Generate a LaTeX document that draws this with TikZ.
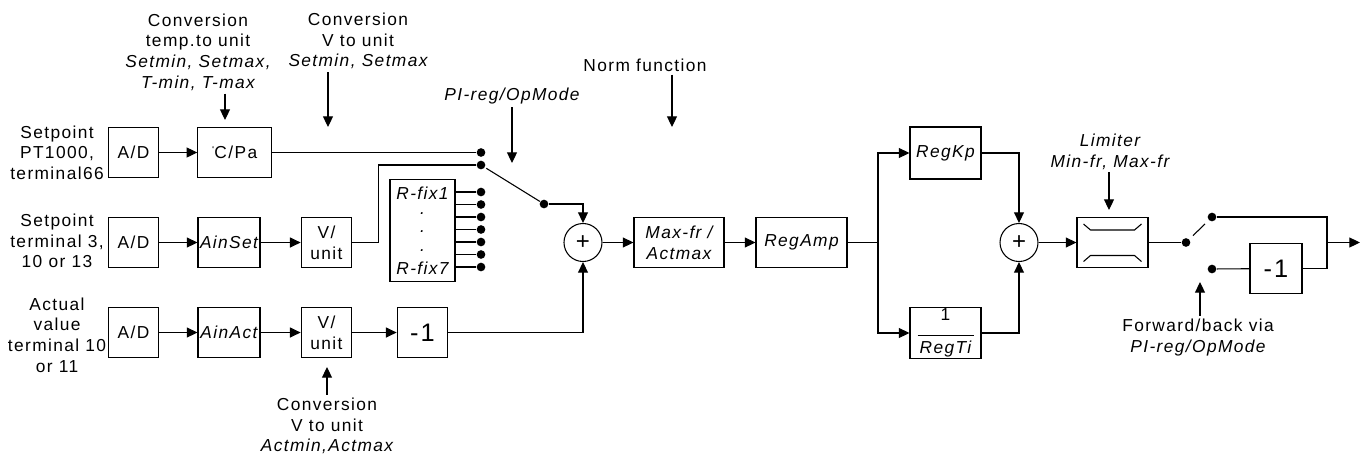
\documentclass[tikz,border=0pt]{standalone}
\usepackage{fontspec}
\setmainfont{Liberation Sans}[LetterSpace=8]
\usetikzlibrary{arrows.meta, calc}

\begin{document}
\begin{tikzpicture}[
    x=0.75pt, y=-0.75pt,
    line width=0.8pt,
    font=\fontsize{13}{15.5}\selectfont,
    box/.style={rectangle, draw, minimum width=38pt, minimum height=38pt,
                align=center, inner sep=1pt},
    sumnode/.style={circle, draw, minimum size=28.5pt, inner sep=0pt,
                font=\fontsize{18}{18}\selectfont},
    dot/.style={circle, fill, inner sep=0pt, minimum size=6.5pt},
    lbl/.style={align=center, inner sep=2pt},
    arr/.style={-{Triangle[length=8pt, width=7.5pt]}},
]
    \useasboundingbox (0,0) rectangle (1360,455);

    % inputs
    \node[lbl] (in1) at (57,152.5) {Setpoint\\PT1000,\\terminal66};
    \node[lbl] (in2) at (57,241) {Setpoint\\terminal 3,\\10 or 13};
    \node[lbl] (in3) at (57,335) {Actual\\value\\terminal 10\\or 11};

    \node[box] (ad1) at (133.5,152.5) {A/D};
    \node[box, minimum width=55pt] (cpa) at (234.5,152.5) {\raisebox{0.8ex}{\tiny °}C/Pa};

    \node[box] (ad2) at (133.5,242.5) {A/D};
    \node[box, minimum width=46.5pt] (ainset) at (229,242.5) {\itshape AinSet};
    \node[box] (vu1) at (326.5,242.5) {V/\\unit};

    \node[box] (ad3) at (133.5,332.5) {A/D};
    \node[box, minimum width=46.5pt] (ainact) at (229,332.5) {\itshape AinAct};
    \node[box] (vu2) at (326.5,332.5) {V/\\unit};
    \node[box, font=\fontsize{19}{20}\selectfont] (neg1) at (422.5,332.5) {-1};

    \node[box, minimum width=48.75pt, minimum height=77pt,
          font=\fontsize{13}{14}\selectfont\itshape] (rfix) at (422.5,230.5)
          {R-fix1\\\raisebox{3pt}{.}\\\raisebox{3pt}{.}\\\raisebox{3pt}{.}\\R-fix7};

    % setpoint selector
    \node[dot] (s1a) at (481,152.5) {};
    \node[dot] (s1b) at (481,165) {};
    \node[dot] (lev) at (544,204) {};
    \foreach \i/\yy in {1/192, 2/204.5, 3/217, 4/229.5, 5/242, 6/254.5, 7/267} {
        \node[dot] (rf\i) at (481,\yy) {};
        \draw (rfix.east |- rf\i) -- (rf\i);
    }

    \node[sumnode] (sum1) at (583,242.5) {+};
    \node[box, minimum width=67.5pt] (maxfr) at (679,242.5) {\itshape Max-fr /\\\itshape Actmax};
    \node[box, minimum width=68.25pt] (regamp) at (801.5,242.5) {\itshape RegAmp};
    \coordinate (br) at (878,242.5);
    \node[box, minimum width=53.25pt, minimum height=39pt] (regkp) at (945.5,153) {\itshape RegKp};
    \node[box, minimum width=53.25pt, minimum height=37.5pt, inner sep=1pt] (regti) at (945.5,333)
          {1\\[-4pt]\rule{42pt}{0.6pt}\\[-2pt]\itshape RegTi};
    \node[sumnode] (sum2) at (1019,242.5) {+};
    \node[box, minimum width=53.25pt] (lim) at (1112.5,242.5) {};
    \draw[shift={(lim.center)}] (-29,-18.5) -- (-22,-12.5) -- (22,-12.5) -- (29,-18.5);
    \draw[shift={(lim.center)}] (-29,19) -- (-22,13) -- (22,13) -- (29,19);

    % direction switch
    \node[dot] (sw2) at (1186,242.5) {};
    \node[dot] (sw2a) at (1212,217) {};
    \node[dot] (sw2b) at (1212,269) {};
    \node[box, minimum width=39pt, font=\fontsize{19}{20}\selectfont] (neg2) at (1276,268.5) {-1};
    \coordinate (jn) at (1327,242.5);
    \coordinate (out) at (1360,242.5);

    % notes
    \node[lbl] (convt) at (198,52) {Conversion\\temp.to unit\\\itshape Setmin, Setmax,\\\itshape T-min, T-max};
    \node[lbl] (convv) at (358,41) {Conversion\\V to unit\\\itshape Setmin, Setmax};
    \node[lbl] (pimode) at (512,96) {\itshape PI-reg/OpMode};
    \node[lbl] (norm) at (645,65) {Norm function};
    \node[lbl] (limtxt) at (1110,151.5) {\itshape Limiter\\\itshape Min-fr, Max-fr};
    \node[lbl] (fwd) at (1198,337.5) {Forward/back via\\\itshape PI-reg/OpMode};
    \node[lbl] (conva) at (327,426) {Conversion\\V to unit\\\itshape Actmin,Actmax};

    \coordinate (t1) at (225,120);
    \coordinate (t2) at (328,127);
    \coordinate (t3) at (512,163);
    \coordinate (t4) at (672,127);
    \coordinate (t5) at (1109,210);
    \coordinate (t6) at (1200,282);
    \coordinate (t7) at (327,367);

    % signal flow
    \draw[arr] (ad1) -- (cpa);
    \draw (cpa) -- (s1a);
    \draw[arr] (ad2) -- (ainset);
    \draw[arr] (ainset) -- (vu1);
    \draw (vu1.east) -- ++(26,0) |- (s1b);
    \draw[arr] (ad3) -- (ainact);
    \draw[arr] (ainact) -- (vu2);
    \draw[arr] (vu2) -- (neg1);
    \draw[shorten <=1pt] (s1b) -- (lev);
    \draw[arr] (lev) -| (sum1);
    \draw[arr] (neg1) -| (sum1);
    \draw[arr] (sum1) -- (maxfr);
    \draw[arr] (maxfr) -- (regamp);
    \draw (regamp) -- (br);
    \draw[arr] (br) |- (regkp);
    \draw[arr] (br) |- (regti);
    \draw[arr] (regkp) -| (sum2);
    \draw[arr] (regti) -| (sum2);
    \draw[arr] (sum2) -- (lim);
    \draw (lim) -- (sw2);
    \draw ($(sw2)!0.27!(sw2a)$) -- ($(sw2)!0.73!(sw2a)$);
    \draw (sw2a) -| (jn);
    \draw (sw2b) -- (neg2);
    \draw (neg2) -| (jn);
    \draw[arr] (jn) -- (out);

    \draw[arr] (convt.south -| t1) -- (t1);
    \draw[arr] (convv.south -| t2) -- (t2);
    \draw[arr] (pimode.south -| t3) -- (t3);
    \draw[arr] (norm.south -| t4) -- (t4);
    \draw[arr] (limtxt.south -| t5) -- (t5);
    \draw[arr] (fwd.north -| t6) -- (t6);
    \draw[arr] (conva.north -| t7) -- (t7);
\end{tikzpicture}
\end{document}
